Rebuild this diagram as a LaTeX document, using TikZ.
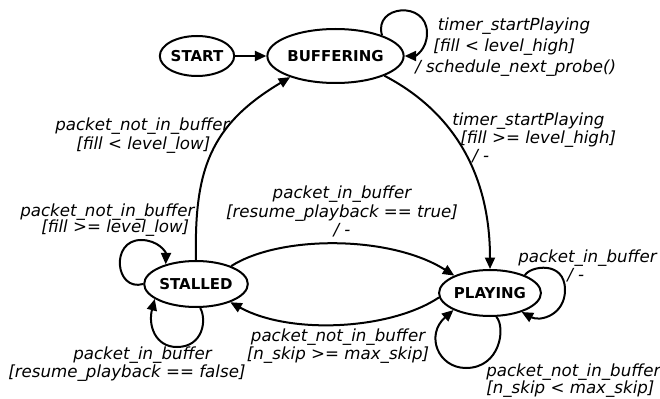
\documentclass[tikz,border=0pt]{standalone}
\usepackage{fontspec}
\setmainfont{DejaVu Sans}
\usetikzlibrary{shapes.geometric,arrows.meta}
\begin{document}
\begin{tikzpicture}[x=0.75pt,y=-0.75pt,
  state/.style={ellipse, draw, line width=1.5pt, inner sep=0pt, font=\fontsize{11.25}{13}\selectfont\bfseries},
  tr/.style={line width=1.5pt, -{Triangle[length=8.6pt,width=7.5pt]}},
  lbl/.style={inner sep=0pt, font=\fontsize{12.5}{13.5}\selectfont\itshape}]
\useasboundingbox (0,0) rectangle (660,399);
% states
\node[state, minimum width=52.5pt, minimum height=30pt] (start) at (197,56) {START};
\node[state, minimum width=96pt, minimum height=40.5pt] (buf) at (335.5,56) {BUFFERING};
\node[state, minimum width=70.5pt, minimum height=34.5pt] (stall) at (196,284) {STALLED};
\node[state, minimum width=70.5pt, minimum height=34.5pt] (play) at (490,293) {PLAYING};
% transitions
\draw[tr] (start) -- (buf);
\draw[tr] (buf.24) .. controls (373,5) and (427,0) .. (427,33) .. controls (427,50) and (415,56) .. (buf.east);
\draw[tr] (buf.-22) .. controls (450,110) and (490,170) .. (play.north);
\draw[tr] (stall.north) .. controls (194,170) and (210,125) .. (buf.-155);
\draw[tr] (stall.27) .. controls (280,235) and (390,235) .. (play.154);
\draw[tr] (play.185) .. controls (390,330) and (290,335) .. (stall.-28);
\draw[tr] (stall.180) .. controls (115,292) and (110,240) .. (141,240) .. controls (158,240) and (166,252) .. (stall.147);
\draw[tr] (stall.-80) .. controls (207,320) and (203,347) .. (177,347) .. controls (155,347) and (148,325) .. (stall.-160);
\draw[tr] (play.27) .. controls (530,266) and (565,260) .. (565,290) .. controls (565,315) and (540,322) .. (play.-31);
\draw[tr] (play.-75) .. controls (506,328) and (500,368) .. (466,368) .. controls (438,368) and (425,335) .. (play.-155);
% labels
\node[lbl, anchor=west, align=left] (l1) at (415,47.5) {\hspace*{17pt}timer\_startPlaying\\[2.25pt]\hspace*{13.5pt}[fill < level\_high]\\[2.25pt]/ schedule\_next\_probe()};
\node[lbl, anchor=west, align=left] (l2) at (452,138) {timer\_startPlaying\\\hspace*{6pt}[fill >= level\_high]\\\hspace*{15pt}/ -};
\node[lbl, anchor=west, align=left] (l3) at (55,135.5) {packet\_not\_in\_buffer\\[0.75pt]\hspace*{15.75pt}[fill < level\_low]};
\node[lbl, anchor=west, align=left] (l4) at (20,220) {packet\_not\_in\_buffer\\[-1.5pt]\hspace*{15.75pt}[fill >= level\_low]};
\node[lbl, align=center] (l5) at (342,211.5) {packet\_in\_buffer\\[0.4pt]{[}resume\_playback == true]\\[0.4pt]/ -};
\node[lbl, align=center] (l6) at (338,346) {packet\_not\_in\_buffer\\{[}n\_skip >= max\_skip]};
\node[lbl, anchor=west, align=left] (l7) at (518,266) {packet\_in\_buffer\\\hspace*{36.75pt}/ -};
\node[lbl, anchor=west, align=left] (l8) at (486,380.5) {packet\_not\_in\_buffer\\[-0.75pt]{[}n\_skip < max\_skip]};
\node[lbl, anchor=west, align=left] (l9) at (8,364) {\hspace*{48.75pt}packet\_in\_buffer\\{[}resume\_playback == false]};
\end{tikzpicture}
\end{document}
